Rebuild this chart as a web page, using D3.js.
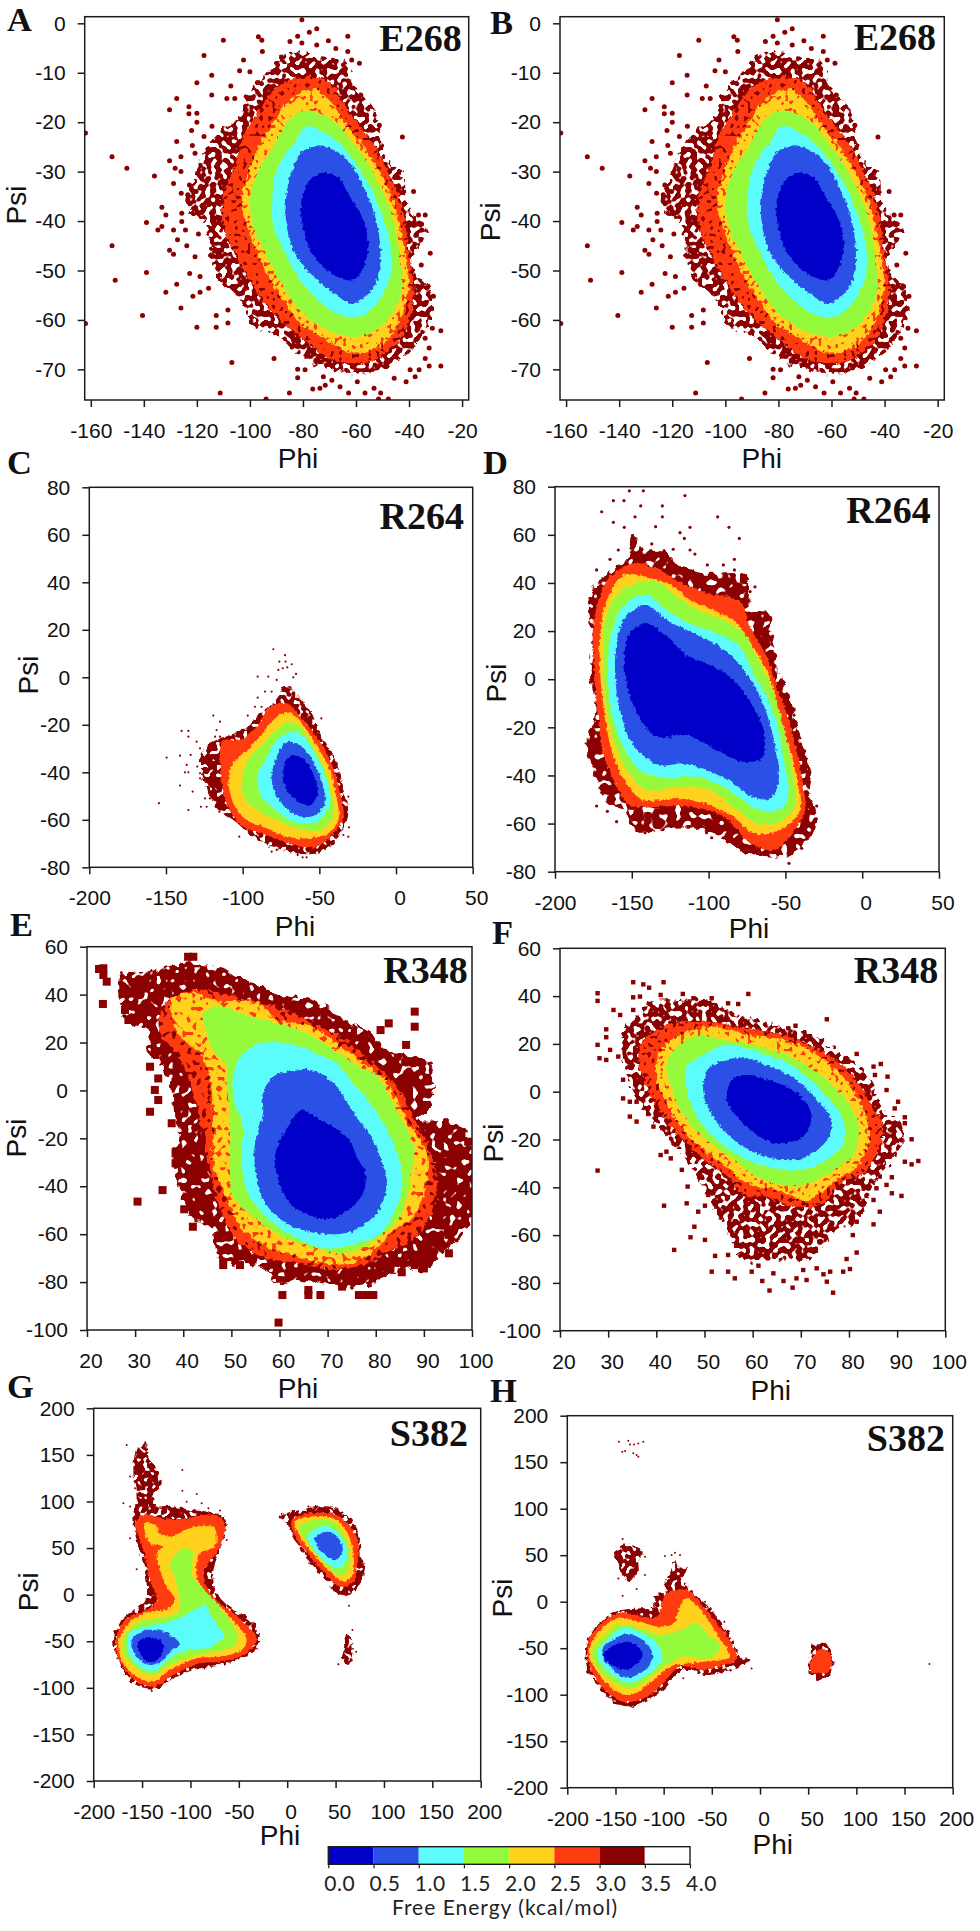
<!DOCTYPE html>
<html><head><meta charset="utf-8">
<script src="https://cdnjs.cloudflare.com/ajax/libs/d3/7.8.5/d3.min.js"></script>
<style>html,body{margin:0;padding:0;background:#fff}svg{display:block}</style>
</head><body><svg id="c" width="980" height="1931"></svg>
<script>
// free-energy levels and their colours
const levelBreaks=[0,0.5,1,1.5,2,2.5,3,3.5,4];
const levelColors=["#0000c8","#2a50e6","#5cfcfc","#96fa3c","#ffd21e","#ff3c0f","#8b0000","#ffffff"];
const barLabels=["0.0","0.5","1.0","1.5","2.0","2.5","3.0","3.5","4.0"];

// tick values
const phiTicksAB=[-160,-140,-120,-100,-80,-60,-40,-20];
const psiTicksAB=[0,-10,-20,-30,-40,-50,-60,-70];
const phiTicksCD=[-200,-150,-100,-50,0,50];
const psiTicksCD=[80,60,40,20,0,-20,-40,-60,-80];
const phiTicksEF=[20,30,40,50,60,70,80,90,100];
const psiTicksEF=[60,40,20,0,-20,-40,-60,-80,-100];
const phiTicksGH=[-200,-150,-100,-50,0,50,100,150,200];
const psiTicksGH=[200,150,100,50,0,-50,-100,-150,-200];

// E268 (A and B) - region outlines, [phi,psi]
const ab30=[[[-86.1,-6.1],[-76,-6.7],[-63.5,-8.1],[-61,-12.8],[-56,-15.5],[-51,-20.9],[-49.6,-26.3],[-42.1,-31],[-40.8,-37],[-33.3,-41.8],[-39.6,-48.5],[-32,-54],[-32,-60],[-38.3,-65.4],[-45.9,-68.8],[-56,-70.8],[-68.5,-70.1],[-81,-67.4],[-88.6,-63.4],[-97.4,-61.4],[-103.7,-56],[-113.7,-49.9],[-116.3,-41.1],[-123.8,-37],[-120,-29.7],[-116.3,-25],[-111,-21.6],[-103.7,-18.9],[-101,-14.2],[-95,-10.8]]];
const ab25=[[[-81.1,-11.1],[-71,-11.5],[-64.7,-16.2],[-58.4,-20.9],[-52.2,-25.6],[-47.1,-31],[-42.1,-38.4],[-40.2,-46.5],[-38.3,-54.6],[-40.8,-61.4],[-47.1,-66.1],[-57.2,-68.8],[-68.5,-68.1],[-81.1,-63.4],[-88.6,-60],[-96.1,-55.3],[-103.7,-48.5],[-110,-41.1],[-110,-35.1],[-104.9,-27.6],[-102.4,-22.9],[-96.1,-17.5],[-89.9,-12.8]]];
const ab20=[[[-83.6,-14.8],[-74.8,-13.5],[-68.5,-16.9],[-62.2,-21.6],[-56,-25.6],[-49.6,-31.7],[-44.6,-38.4],[-41.5,-46.5],[-40.2,-53.3],[-43.4,-60],[-49.6,-64.7],[-61,-66.8],[-71,-64.1],[-81.1,-60.7],[-87.4,-56],[-94.9,-49.2],[-100.5,-41.8],[-103,-35.7],[-99.9,-29],[-96.1,-24.3],[-89.9,-18.9]]];
const ab15=[[[-81.1,-17.9],[-73.5,-18.2],[-67.2,-20.2],[-61,-24.3],[-54.7,-29],[-49.6,-34.4],[-45.2,-41.1],[-43.4,-47.9],[-42.7,-53.9],[-47.1,-59.3],[-54.7,-62.7],[-62.2,-63.4],[-72.3,-61.7],[-81.1,-58],[-87.4,-53.3],[-93.6,-47.2],[-98.7,-41.1],[-99.9,-35.7],[-97.4,-30.3],[-91.1,-24.9],[-86.1,-20.2]]];
const ab10=[[[-78.6,-20.8],[-72.9,-21.9],[-67.2,-23.9],[-61,-27.6],[-54.7,-33],[-50.3,-38.4],[-47.1,-44.5],[-47.1,-51.2],[-52.2,-56.6],[-58.4,-59.3],[-66,-59],[-73.5,-56.3],[-81.1,-51.9],[-86.1,-47.2],[-91.1,-41.1],[-91.7,-37.1],[-89.9,-29.7],[-83.6,-24.3]]];
const ab05=[[[-74.8,-24.9],[-68.5,-25.6],[-62.2,-28.3],[-57.2,-33],[-52.8,-39.1],[-50.9,-45.2],[-51.5,-51.2],[-55.9,-55],[-61,-56.6],[-68.5,-54.6],[-76,-51.2],[-82.3,-47.2],[-86.1,-41.1],[-86.3,-35.1],[-83.6,-29],[-80.4,-26]]];
const ab00=[[[-73.5,-30.3],[-67.2,-31],[-62.2,-35.1],[-57.8,-39.1],[-55.3,-44.5],[-56.6,-48.5],[-61,-51.9],[-67.2,-51.2],[-74.8,-47.9],[-79.8,-41.8],[-80.4,-35.1],[-77.3,-31.7]]];
const abSpecks=[[-152,-27],[-146.4,-29.3],[-136,-30.9],[-152,-45],[-150.8,-52],[-139,-40.3],[-139,-50.4],[-140.5,-59.1],[-162,-22.2],[-162,-60.7],[-110,-3.4],[-117.3,-6.5],[-120,-12],[-114.4,-10.5],[-114.4,-14.5],[-127.6,-15.2],[-130.3,-17.5],[-123,-16.9],[-120,-18.2],[-123,-18.3],[-120,-20],[-122,-21.7],[-117.3,-22.9],[-114.3,-20.8],[-127.6,-23.9],[-121.7,-24.7],[-120.7,-26.3],[-126,-27],[-130.3,-27.8],[-128.2,-29.3],[-126,-30],[-128.8,-32.4],[-122.8,-32.7],[-125.9,-34.4],[-123.4,-34.7],[-120.3,-34],[-133.2,-37.2],[-131.7,-38.8],[-125.7,-38.4],[-125.7,-40.1],[-134.7,-41.8],[-133.2,-41.1],[-128.8,-41.8],[-124.3,-41.8],[-127.3,-43.8],[-119.4,-42.6],[-123.8,-45],[-130.3,-45.9],[-128.8,-46.7],[-120.7,-47.2],[-122.7,-50.6],[-118.8,-51.2],[-127.6,-52.8],[-131.7,-54.4],[-121.5,-55.2],[-118.8,-54.4],[-115.6,-53.6],[-126,-57.6],[-120,-61.5],[-112.7,-59.1],[-112.7,-61.5],[-108.3,-58],[-108.3,-60.6],[-106.8,-68.6],[-90.9,-67.8],[-111.2,-74.8],[-85.1,-74.8],[-93.9,-76],[-80.4,0.7],[-77.6,-1.8],[-74.8,-1.1],[-63.1,-2.6],[-63.1,-5.7],[-70.4,-3.5],[-96.8,-2.7],[-95.5,-3.4],[-95.3,-5.7],[-82,-2.6],[-84.9,-3.7],[-80.4,-4],[-74.8,-4.4],[-102.4,-7.4],[-103.9,-9.6],[-100,-9.8],[-61.6,-7.4],[-58.7,-8.1],[-67.6,-5.1],[-107.2,-12.7],[-108.7,-15.2],[-105.7,-15.2],[-58.2,-14.5],[-42.5,-23],[-38.3,-34],[-51.2,-20.6],[-33.9,-38.8],[-35.2,-41.8],[-36.4,-38.8],[-32,-46.5],[-35.4,-48.9],[-35.6,-43.8],[-30.8,-55.2],[-28,-62.2],[-31.2,-61.7],[-33.9,-63.7],[-32.4,-65.7],[-33.9,-67.8],[-32.4,-69.3],[-28,-69.3],[-36.2,-70.1],[-41.1,-72.5],[-37.7,-71.5],[-39.6,-70.1],[-45.6,-71.8],[-66,-73.5],[-62.8,-74.8],[-56.6,-74.8],[-59.5,-72.5],[-53.2,-73.8],[-50.7,-74.8],[-51.5,-76],[-47.8,-76],[-76.3,-74],[-73.6,-73.8],[-71.6,-73.2],[-69.1,-72.2],[-72.3,-71.5],[-82,-71.7],[-82,-70],[-79.2,-70.1]];

// R264 (C)
const c30=[[[-72.4,-3.2],[-65.9,-6.7],[-56.1,-13.8],[-49.6,-23.6],[-38.7,-36.2],[-34.3,-47.4],[-31.1,-57.3],[-34.3,-63.6],[-40.9,-69.9],[-51.7,-74.1],[-64.8,-74.1],[-80,-71.3],[-93,-67.1],[-106.1,-60.1],[-115.9,-55.9],[-123.5,-46],[-127.8,-34.8],[-121.3,-27.8],[-110.4,-25],[-97.4,-20.8],[-88.7,-15.2],[-77.8,-9.5]]];
const c25=[[[-71.3,-10.9],[-61.5,-17.3],[-51.7,-25],[-43,-34.8],[-37.6,-46],[-34.3,-58.7],[-40.9,-65.7],[-51.7,-71.3],[-67,-70.6],[-84.3,-66.4],[-99.6,-62.9],[-108.3,-55.9],[-113.7,-44.6],[-114.8,-32],[-112.6,-26.4],[-101.7,-26.4],[-90.9,-20.8],[-82.2,-12.4]]];
const c20=[[[-70.2,-14.5],[-61.5,-19.4],[-52.8,-27.8],[-44.1,-37.6],[-39.8,-47.4],[-37.6,-60.1],[-44.1,-65.7],[-58.3,-67.8],[-71.3,-67.1],[-84.3,-63.6],[-97.4,-60.1],[-105,-54.5],[-109.3,-43.2],[-106.1,-36.2],[-97.4,-30.6],[-88.7,-25],[-80,-18]]];
const c15=[[[-69.1,-18.7],[-62.6,-20.8],[-53.9,-29.2],[-46.3,-39],[-42,-48.8],[-40.9,-58.7],[-49.6,-64.3],[-64.8,-63.6],[-77.8,-60.1],[-90.9,-55.9],[-98.5,-50.9],[-100.7,-44.6],[-96.3,-34.8],[-86.5,-27.8],[-77.8,-22.2]]];
const c10=[[[-68,-22.9],[-60.4,-25],[-51.7,-33.4],[-45.2,-43.2],[-43,-53],[-49.6,-60.1],[-62.6,-61.5],[-75.7,-57.3],[-86.5,-50.9],[-90.9,-43.2],[-84.3,-33.4],[-77.8,-26.4]]];
const c05=[[[-69.1,-27.1],[-61.5,-29.2],[-52.8,-36.9],[-47.4,-46],[-46.3,-53],[-52.8,-58],[-61.5,-58.7],[-71.3,-55.2],[-78.9,-48.8],[-81.1,-41.8],[-77.8,-33.4],[-73.5,-28.5]]];
const c00=[[[-67,-32.7],[-59.4,-34.8],[-52.8,-42.5],[-51.3,-49.5],[-56.1,-53.8],[-63.7,-52.4],[-71.3,-47.4],[-73.5,-39.7],[-71.3,-34.8]]];
const cSpecks=[[-80,11.8],[-72.4,9.3],[-76.1,6.6],[-72,6.6],[-68,5.5],[-76.7,3.1],[-73.9,3.8],[-70.9,4.2],[-65.2,1.4],[-67,0],[-90.2,0.3],[-83.3,0.3],[-77.8,-1.1],[-85.4,-6],[-90.2,-8.6],[-81.1,-6],[-92,-12.4],[-87.7,-12.4],[-96.7,-16.1],[-119.1,-16.1],[-114.8,-18.7],[-139.8,-22.6],[-135.4,-22.6],[-135.4,-25],[-117,-22.2],[-118,-25],[-114.8,-25],[-130,-27.1],[-127.8,-29.9],[-149.6,-33.8],[-140.9,-33],[-133.9,-32.7],[-136.5,-36.9],[-137.6,-40],[-135.4,-40],[-129.6,-37.6],[-127.8,-40.4],[-127.8,-42.5],[-140.9,-45.6],[-132.6,-48.1],[-122.4,-46.7],[-124.6,-51],[-121.3,-51],[-154.6,-53],[-135.4,-55.9],[-127.2,-54.5],[-123.5,-54.5],[-115.2,-56.6],[-102.2,-67.1],[-81.1,-73.4],[-77.8,-72.7],[-64.1,-74.8],[-60.9,-75.8],[-58.3,-75.8],[-48.7,-17.3],[-31.1,-50.2],[-30.7,-63.2],[-34.3,-66.4],[-31.1,-67.1]];

// R264 (D)
const d30=[[[-147.9,59.9],[-142.5,53.7],[-129.5,53.7],[-118.6,46.8],[-103.4,44],[-75.2,42.6],[-73,28.8],[-62.2,28.1],[-57.9,14.9],[-55.7,6.6],[-51.3,-1.7],[-45.9,-10],[-42.7,-19.7],[-37.2,-30.8],[-32.9,-39.1],[-34,-48.8],[-28.6,-57.1],[-37.2,-68.2],[-51.3,-73.7],[-75.2,-72.4],[-90.4,-66.1],[-107.8,-62],[-127.3,-62],[-146.8,-63.4],[-153.3,-55.7],[-166.4,-50.2],[-175,-39.1],[-179.4,-27.3],[-172.9,-11.4],[-177.2,1.1],[-176.1,17.7],[-177.2,34.3],[-166.4,44],[-153.3,49.5]]];
const d25=[[[-149,48.1],[-136,46.8],[-120.8,41.2],[-101.3,35.7],[-79.6,32.2],[-73,21.8],[-62.2,9.4],[-55.7,-3.1],[-49.2,-14.2],[-42.7,-29.4],[-38.3,-44.7],[-37.2,-54.3],[-47,-65.4],[-57.9,-71],[-73,-68.2],[-90.4,-57.1],[-112.1,-53],[-133.8,-53],[-151.2,-52.3],[-159.9,-44.7],[-168.5,-30.8],[-172.9,-10],[-175,11.1],[-175,23.2],[-168.5,38.4],[-162,44]]];
const d20=[[[-155.5,43.3],[-140.3,42.6],[-125.1,39.1],[-112.1,32.9],[-94.7,28.1],[-81.7,23.2],[-70.9,13.5],[-62.2,3.8],[-55.7,-8.6],[-50.3,-22.5],[-43.7,-37.7],[-40.5,-54.3],[-53.5,-62.7],[-70.9,-64],[-83.9,-57.1],[-103.4,-51.6],[-120.8,-49.5],[-142.5,-50.2],[-153.3,-43.3],[-162,-32.2],[-167.4,-15.6],[-170.7,3.8],[-169.6,24.6],[-164.2,35.7]]];
const d15=[[[-151.2,39.1],[-133.8,40.5],[-120.8,34.3],[-107.8,28.8],[-90.4,24.6],[-77.4,19.1],[-68.7,9.4],[-60,-1.7],[-53.5,-14.2],[-49.2,-25.3],[-44.8,-40.5],[-43.7,-53],[-55.7,-59.9],[-68.7,-59.9],[-81.7,-54.3],[-99.1,-46],[-118.6,-44.7],[-140.3,-46],[-153.3,-37.7],[-162,-25.3],[-166.4,-12.8],[-168.5,3.8],[-167.4,24.6],[-162,32.9]]];
const d10=[[[-149,33.6],[-140.3,35],[-127.3,28.8],[-112.1,23.2],[-94.7,19.1],[-79.6,13.5],[-70.9,2.4],[-62.2,-7.3],[-55.7,-18.4],[-51.3,-32.2],[-48.1,-46],[-51.3,-53],[-64.4,-55],[-75.2,-51.6],[-90.4,-44.7],[-107.8,-40.5],[-127.3,-41.2],[-144.7,-37.7],[-155.5,-28],[-162,-17],[-165.3,-1.7],[-164.2,16.3],[-158.8,27.4]]];
const d05=[[[-141.4,30.8],[-127.3,24.6],[-112.1,19.8],[-92.6,13.5],[-79.6,5.9],[-68.7,-4.5],[-62.2,-14.2],[-56.8,-28],[-54.6,-43.3],[-60,-49.5],[-72,-48.8],[-83.9,-43.3],[-99.1,-38.4],[-116.4,-35],[-131.6,-35.7],[-149,-27.3],[-157.7,-12.8],[-160.9,8],[-156.6,23.2],[-150.1,28.1]]];
const d00=[[[-140.3,23.2],[-127.3,17.7],[-114.3,10.1],[-101.3,6.6],[-86.1,1.1],[-75.2,-7.3],[-66.5,-17],[-63.3,-26.6],[-65.5,-32.9],[-77.4,-34.3],[-94.7,-29.4],[-114.3,-23.2],[-133.8,-23.9],[-142.5,-18.3],[-151.2,-7.3],[-154.9,9.4],[-151.2,19.1]]];
const dSpecks=[[-151.6,78.3],[-142.5,78.3],[-115.4,76.3],[-162,74.2],[-155.1,74.2],[-144.2,72],[-130.1,72],[-169.6,69.6],[-147.9,67.5],[-130.1,67.5],[-94.1,67.5],[-162,65.2],[-134.5,63.4],[-154.9,63.1],[-112.1,63.1],[-86.7,63.1],[-118.6,60.9],[-115.8,58.5],[-80,58.5],[-137,56.2],[-123,54],[-112.1,53.7],[-158.8,53.7],[-108.9,52],[-164.2,49.8],[-83.2,49.8],[-83.2,45.4],[-100.8,47.5],[-90.4,47.5],[-172.9,45.4],[-177.2,33.6],[-69.8,38.4],[-73,36.4],[-172.9,-52.7],[-165.9,-54.9],[-169.6,-47.1],[-159.9,-59.2],[-141.4,-63.8],[-101.3,-63.8],[-98,-65.9],[-90.4,-65.9],[-47.7,-76.5],[-47.7,-72.6],[-39.4,-70.3],[-29.6,-52.7],[-44.4,-14.9]];

// R348 (E)
const e30=[[[26.9,47.5],[32.4,49.6],[40.7,53],[48.3,50.3],[53.2,46.1],[59.4,40.5],[68.4,36.3],[73.3,29.4],[78.1,25.2],[82.3,16.9],[91.3,11.3],[91.3,-6.8],[89.2,-12.3],[96.8,-13.7],[100,-23.5],[100,-54.1],[94.7,-66.6],[90.6,-75],[85,-75],[79.5,-80.5],[73.3,-81.9],[65.6,-79.1],[59.4,-80.5],[56.6,-73.6],[50.4,-72.2],[47.6,-70.8],[45.6,-56.9],[41.4,-52.7],[39.3,-40.2],[37.9,-26.3],[39.3,-17.9],[37.9,-6.8],[37.2,4.3],[34.5,12.7],[32.4,15.5],[33.1,23.8],[28.2,29.4],[27.2,35]]];
const e25=[[[37.2,37.7],[42.8,41.9],[48.3,40.5],[56.6,36.3],[62.9,32.2],[68.4,26.6],[73.9,21],[79.5,11.3],[84.3,1.6],[88.5,-13.7],[92,-29],[92.6,-43],[89.2,-59.7],[83.6,-66.6],[78.1,-72.2],[71.2,-75],[64.3,-72.2],[56.6,-69.4],[50.4,-61],[47.6,-48.5],[45.6,-34.6],[44.2,-20.7],[42.8,-6.8],[40.7,7.1],[38.6,15.5],[35.2,23.8],[35.2,32.2]]];
const e20=[[[37.6,37.7],[42.8,40.5],[46.2,37.7],[55.9,36.3],[59.4,29.4],[67,26.6],[72.6,18.3],[79.5,8.5],[83,1.6],[87.1,-15],[90.6,-26.3],[89.9,-43],[87.8,-52.7],[83,-59.7],[78.1,-69.4],[71.2,-72.9],[64.3,-69.4],[57.3,-65.2],[51.8,-56.9],[49,-44.3],[46.2,-30.4],[46.2,-12.3],[45.6,4.3],[43.5,15.5],[40.7,19.7],[38.6,25.2]]];
const e15=[[[44.2,32.2],[47.6,35],[51.8,32.2],[57.3,29.4],[64.3,25.2],[70.5,18.3],[75.3,11.3],[80.2,5.7],[84.3,-8.2],[87.8,-23.5],[87.1,-38.8],[85,-52.7],[78.8,-63.8],[73.3,-68],[66.3,-65.2],[59.4,-59.7],[54.6,-52.7],[50.4,-44.3],[49.7,-29],[49.7,-12.3],[49,3],[49,9.9],[46.2,16.9],[44.9,23.8]]];
const e10=[[[55.2,19],[61.5,19.7],[67.7,15.5],[71.9,11.3],[75.3,3],[79.5,-6.8],[83,-19.3],[85.4,-33.2],[84.7,-47.1],[80.9,-59.7],[76,-63.8],[69.8,-65.9],[62.9,-61],[57.3,-52.7],[53.5,-43],[52.1,-27.7],[52.5,-15.1],[50.4,-2.6],[51.1,11.3]]];
const e05=[[[58.7,5.7],[61.5,7.8],[67.7,7.8],[71.9,1.6],[74.6,-6.8],[77.4,-15.1],[79.5,-20.7],[80.9,-27.7],[82.3,-38.8],[80.2,-51.3],[74.6,-59],[68.4,-59.7],[61.5,-55.5],[56.6,-45.7],[54.9,-31.8],[54.9,-22.1],[56.6,-9.6],[56.6,-1.2]]];
const e00=[[[64.6,-8.2],[68.4,-12.3],[73.9,-19.3],[76,-27.7],[77.8,-34.6],[77.1,-44.3],[71.2,-53.4],[67,-52.7],[62.2,-47.1],[59.4,-34.6],[59.1,-26.3],[61.8,-15.1]]];
const eSpecks=[[22.5,50.7],[23.4,51],[23.4,48.2],[24.1,45.4],[23.3,36.1],[27.9,33.6],[28.6,29.4],[41,55.8],[42.1,55.8],[33.1,9.9],[34.8,5],[33.1,-8.9],[34.1,0.2],[34.8,-4],[37.6,-13.7],[38.4,-26.3],[38.4,-30.4],[35.7,-41.6],[30.5,-46.4],[40.2,-49.6],[42,-56.9],[88.1,32.9],[88.1,26.6],[82.7,28],[81,25.2],[86.3,19],[59.8,-96.9],[60.6,-85.4],[66,-83.3],[66,-85.4],[68.5,-85.4],[76.5,-85.4],[78.1,-85.4],[79.5,-85.4],[73,-81.9],[85.4,-75.9],[90,-74.3],[88.1,-72.9],[90,-69.4],[95.2,-68],[95.1,-60.3],[48.3,-72.9],[47.3,-61.7],[51.8,-72.9],[99.2,-21.4],[97.8,-18.6]];

// R348 (F)
const f30=[[[38.7,37],[44.9,38.4],[51.1,38.4],[56,32.8],[60.8,30],[65.7,27.2],[71.9,24.4],[77.4,17.5],[81.6,11.9],[85.1,2.1],[87.8,-9],[91.3,-14.6],[89.9,-25.8],[86.4,-34.1],[84.4,-42.5],[82.3,-53.7],[77.4,-57.9],[74.7,-64.8],[71.2,-70.4],[64.3,-70.4],[58.1,-70.4],[55.3,-60.6],[51.1,-45.3],[46.3,-28.6],[42.1,-18.8],[38,-9],[33.8,7.7],[33.1,25.8],[35.9,31.4]]];
const f25=[[[38,23],[44.2,28.6],[51.1,29.3],[58.1,26.5],[65,24.4],[71.2,20.3],[76.1,14.7],[80.9,6.3],[84.4,-4.9],[87.1,-14.6],[85.7,-25.8],[83,-34.1],[78.1,-38.3],[74.7,-46.7],[67.8,-48.1],[62.9,-43.9],[58.8,-43.9],[54.6,-35.5],[49.1,-27.2],[44.9,-18.8],[40.8,-7.6],[38,2.1],[36.3,14.7]]];
const f20=[[[41.5,18.9],[46.3,25.1],[52.5,27.2],[59.4,23.7],[66.4,21.6],[71.9,17.5],[77.4,9.1],[80.9,0.7],[83.7,-11.8],[84,-21.6],[81.6,-31.4],[77.4,-36.9],[71.2,-45.3],[65,-41.1],[59.4,-39],[54.6,-31.4],[49.8,-24.4],[45.6,-16],[42.1,-4.9],[40.1,6.3],[40.1,13.3]]];
const f15=[[[43.5,16.8],[48.4,23.7],[53.9,21.6],[60.1,19.6],[66.4,16.1],[71.2,11.2],[75.4,4.9],[79.5,-3.5],[81.9,-14.6],[81.2,-25.8],[78.1,-31.4],[73.3,-36.9],[67.8,-39.7],[60.8,-35.5],[55.3,-27.2],[50.4,-20.2],[46.3,-11.8],[43.5,-0.7],[42.1,10.5]]];
const f10=[[[46.3,10.5],[50.4,16.1],[54.6,19.6],[60.8,16.8],[66.4,12.6],[71.2,6.3],[75.4,-2.1],[78.8,-11.8],[78.8,-21.6],[75.4,-28.6],[69.8,-32.7],[62.9,-31.4],[57.4,-27.2],[52.5,-20.2],[48.4,-10.4],[46.3,0.7]]];
const f05=[[[50.4,8.4],[53.2,12.6],[58.1,14],[63.6,10.5],[69.1,4.9],[74,-4.9],[76.4,-11.8],[75.4,-20.2],[71.2,-27.2],[66.4,-28.6],[60.8,-25.8],[55.3,-18.8],[51.8,-10.4],[49.8,-0.7]]];
const f00=[[[56,5.6],[59.4,7],[64.3,4.2],[68.4,0.7],[71.2,-4.9],[72.2,-10.4],[70.5,-18.8],[65.7,-21.6],[61.5,-18.8],[57.4,-11.8],[54.6,-3.5]]];
const fSpecks=[[27.8,41.2],[27.8,38],[27.8,19.6],[28.2,14],[29.6,13.3],[29.6,26.1],[29.6,22.8],[27.8,-33],[35.2,45.8],[37.3,44.9],[38.5,43.5],[41.5,45.8],[36.6,39.8],[40.9,40.5],[45.5,40.9],[59.1,40.9],[47.7,39.1],[51.5,39.1],[54.9,37],[57,36.7],[35.2,39.5],[31.1,34.2],[32.5,32.1],[35.2,34.2],[75.4,30.3],[68.9,27.6],[67.4,26.5],[81.6,15.8],[86.6,11.6],[85.1,10.5],[85.4,7],[88,6.3],[87.8,0.7],[90.2,-4.2],[89.5,-7],[91.6,-10.7],[91.6,-13.2],[90.9,-20.2],[93,-19.9],[91.6,-29.3],[93,-30.4],[94.4,-29],[88.9,-35.8],[87.8,-39],[88.9,-42.5],[90.9,-43.6],[85.7,-40.4],[86.4,-35.5],[85.1,-45.3],[86.4,-50.2],[85.1,-55.5],[81.6,-54.4],[80.8,-60],[81.6,-67.3],[79.5,-70],[80.2,-74.2],[78.8,-75.3],[76.1,-75.3],[74.7,-76.4],[73.3,-73.9],[75.4,-79.5],[76.7,-84.1],[71.2,-78.8],[70.5,-74.6],[69.1,-78.1],[68.3,-82],[66.4,-79.2],[64.3,-76],[63.5,-83.2],[62,-79.2],[61.2,-72.8],[59.8,-75.3],[56.3,-78.1],[54.9,-75.3],[51.5,-75.3],[43.7,-66.2],[47.1,-60.9],[41.6,-47.7],[50.1,-62],[52.2,-68.7],[54.9,-68.3],[47.9,-56.5],[48.7,-50.2],[50.1,-47.7],[46.3,-46.7],[50.8,-43.2],[46.5,-39.7],[45.3,-32.7],[43,-27.9],[40.9,-26.5],[42.1,-25.1],[39.4,-14.6],[35.9,-12.5],[34.5,-10.4],[33.1,5],[33.1,-2.8],[34.5,-4.2],[35.9,-4.2],[37.3,-3.5],[38,-0.7],[32.1,14.7],[30.4,17.5]];

// S382 (G)
const g30=[[[-145.2,162.4],[-143.5,148.1],[-134.9,133.8],[-129.7,119.5],[-138.3,105.2],[-134.9,94.5],[-117.7,94.5],[-100.4,90.9],[-83.2,89.1],[-66,83.7],[-62.5,73],[-69.4,51.5],[-76.3,22.9],[-72.9,1.4],[-55.6,-16.5],[-35,-30.8],[-29.8,-55.8],[-45.3,-66.5],[-66,-75.5],[-90.1,-79.1],[-114.2,-88],[-134.9,-100.5],[-152.1,-98.7],[-165.9,-88],[-176.2,-66.5],[-179.7,-45.1],[-169.3,-25.4],[-148.7,-9.3],[-145.2,8.6],[-148.7,33.6],[-155.6,58.7],[-159,83.7],[-155.6,105.2],[-159,130.2],[-155.6,155.3]],
 [[-9.1,83.7],[13.3,90.9],[42.5,94.5],[61.5,85.5],[73.6,65.8],[77,37.2],[80.5,33.6],[73.6,8.6],[63.2,-0.4],[52.9,-0.4],[40.8,15.7],[23.6,33.6],[6.4,62.3],[-0.5,76.6]],
 [[59.8,-43.3],[63.2,-43.3],[67.7,-55.8],[66.7,-66.5],[63.2,-75.5],[56.3,-68.3],[59.8,-55.8]]];
const g25=[[[-157.3,76.6],[-148.7,85.5],[-117.7,80.1],[-76.3,85.5],[-64.3,76.6],[-69.4,51.5],[-86.6,22.9],[-76.3,-2.1],[-55.6,-20],[-40.1,-34.3],[-31.5,-48.7],[-45.3,-64.8],[-69.4,-71.9],[-90.1,-73.7],[-117.7,-86.2],[-136.6,-98.7],[-152.1,-95.2],[-167.6,-80.9],[-176.2,-63],[-176.2,-45.1],[-165.9,-25.4],[-145.2,-16.5],[-134.9,-5.7],[-141.8,15.7],[-146.9,40.8],[-152.1,58.7]],
 [[4.7,80.1],[23.6,87.3],[51.2,85.5],[64.9,73],[73.6,55.1],[71.8,30],[68.4,13.9],[54.6,8.6],[42.5,19.3],[23.6,40.8],[8.1,62.3]]];
const g20=[[[-146.9,76.6],[-136.6,74.8],[-131.4,65.8],[-121.1,62.3],[-100.4,71.2],[-76.3,73],[-72.9,58.7],[-76.3,49.7],[-90.1,44.4],[-93.5,19.3],[-83.2,1.4],[-62.5,-20],[-50.5,-34.3],[-41.9,-48.7],[-47,-59.4],[-69.4,-66.5],[-93.5,-68.3],[-121.1,-80.9],[-138.3,-93.4],[-155.6,-88],[-169.3,-73.7],[-174.5,-55.8],[-172.8,-45.1],[-162.4,-29],[-141.8,-18.2],[-126.3,-16.5],[-115.9,-5.7],[-124.5,8.6],[-131.4,26.5],[-134.9,44.4],[-128,51.5],[-141.8,55.1],[-146.9,65.8]],
 [[8.1,78.4],[23.6,83.7],[47.7,81.9],[61.5,67.6],[68.4,44.4],[66.7,19.3],[58,13.9],[44.3,24.7],[23.6,47.9],[11.5,65.8]]];
const g15=[[[-110.8,47.9],[-98.7,47.9],[-98.7,22.9],[-88.4,8.6],[-76.3,-5.7],[-59.1,-27.2],[-52.2,-41.5],[-50.5,-50.4],[-66,-59.4],[-93.5,-64.8],[-121.1,-75.5],[-138.3,-86.2],[-153.8,-80.9],[-165.9,-68.3],[-170,-55.8],[-167.6,-43.3],[-155.6,-30.8],[-134.9,-25.4],[-114.2,-20],[-110.8,-5.7],[-117.7,22.9],[-121.1,30]],
 [[11.5,73],[27.1,80.1],[47.7,78.4],[58,65.8],[64.9,44.4],[63.2,26.5],[56.3,19.3],[42.5,30],[23.6,51.5],[13.3,65.8]]];
const g10=[[[-86.6,-11.1],[-76.3,-27.2],[-66,-41.5],[-64.3,-45.1],[-83.2,-57.6],[-103.9,-59.4],[-121.1,-68.3],[-138.3,-82.6],[-152.1,-77.3],[-162.4,-66.5],[-165.9,-54],[-162.4,-41.5],[-148.7,-34.3],[-128,-30.8],[-109,-23.6],[-97,-16.5]],
 [[21.9,64],[39.1,73.7],[52.9,65.8],[61.5,48.1],[59.8,33.6],[51.2,28.3],[37.4,37.2],[23.6,55.1]]];
const g05=[[[-145.2,-37.9],[-128,-39.7],[-115.9,-46.9],[-110.8,-54],[-121.1,-61.2],[-128,-70.1],[-141.8,-75.5],[-152.1,-70.1],[-159.7,-59.4],[-160.7,-48.7],[-153.8,-41.5]],
 [[28.8,60.5],[42.5,67.6],[52.9,60.5],[57.4,49.7],[54.6,41],[47.7,37.9],[35.7,46.2]]];
const g00=[[[-141.8,-45.8],[-129.7,-50.4],[-128,-59.4],[-134.9,-70.1],[-145.2,-71.9],[-152.1,-63],[-153.8,-52.2],[-148.7,-46.9]]];
const gSpecks=[[-165.9,160.6],[-108.4,133.8],[-162.4,126.7],[-157.3,114.1],[-108.4,111.6],[-93.5,108],[-103.9,99.8],[-88.4,98],[-81.5,92.7],[-69.4,90.2],[-169.3,98],[-162.4,94.5],[-162.4,60.5],[-62.5,58.7],[-155.6,27.2],[63.9,-11.8],[67.4,-37.9],[71.2,-61.2],[52.9,-74.8],[-140,-103.4],[21.9,94.5]];

// S382 (H)
const h30=[[[-176.5,-35.8],[-148.8,-10.8],[-128,-7.2],[-110.7,-5.4],[-109,7.2],[-98.6,10.8],[-96.9,23.3],[-83,26.9],[-72.7,12.5],[-51.9,-7.2],[-31.1,-37.6],[-20.8,-59.1],[-8.7,-62.7],[-31.1,-73.5],[-55.4,-78.9],[-79.6,-73.5],[-100.3,-95],[-117.6,-105.7],[-131.5,-112.9],[-152.2,-107.5],[-169.6,-87.8],[-179.9,-69.9]],
 [[-150.5,55.6],[-143.6,60.9],[-131.5,60.9],[-121.8,53.8],[-126.3,44.8],[-126.3,30.5],[-135,23.3],[-143.6,30.5],[-147,41.2]],
 [[-88.2,44.8],[-84.8,37.6],[-76.1,35.8],[-81.3,26.9],[-95.2,26.9],[-91.7,35.8]],
 [[53.6,-44.8],[60.6,-48.4],[65.7,-43],[74.4,-53.8],[76.1,-66.3],[72.7,-78.9],[57.1,-84.2],[50.2,-69.9],[52.6,-55.6]]];
const h25=[[[-176.5,-37.6],[-148.8,-12.5],[-107.3,-16.1],[-96.9,9],[-76.1,12.5],[-58.8,-5.4],[-41.5,-26.9],[-27.7,-48.4],[-24.2,-62.7],[-38.1,-68.1],[-58.8,-73.5],[-83,-69.9],[-103.8,-91.4],[-121.1,-103.9],[-141.9,-107.5],[-162.6,-93.2],[-176.5,-69.9],[-179.2,-52]],
 [[55.4,-59.1],[60.6,-51.3],[72.7,-55.6],[74.4,-68.1],[69.2,-77.1],[53.6,-75.3],[51.9,-66.3]]];
const h20=[[[-173,-41.2],[-148.8,-17.9],[-124.6,-21.5],[-103.8,-26.9],[-90,-23.3],[-83,-5.4],[-76.1,3.6],[-58.8,-12.5],[-45,-34.1],[-31.1,-59.1],[-45,-62.7],[-72.7,-66.3],[-93.4,-69.9],[-110.7,-84.2],[-134.9,-100.4],[-155.7,-91.4],[-169.6,-73.5],[-177.2,-59.1]]];
const h15=[[[-169.6,-44.8],[-147.1,-25.1],[-124.6,-28.7],[-103.8,-35.8],[-83,-30.5],[-65.7,-23.3],[-55.4,-34.1],[-41.5,-48.4],[-51.9,-60.9],[-79.6,-59.1],[-93.4,-66.3],[-114.2,-80.6],[-134.9,-93.2],[-155.7,-84.2],[-169.6,-69.9],[-174.7,-55.6]]];
const h10=[[[-162.6,-44.8],[-143.6,-28.7],[-124.6,-32.3],[-109,-43],[-101,-59.1],[-110.7,-73.5],[-134.9,-87.1],[-155.7,-77.1],[-167.8,-60.9],[-168.9,-52]]];
const h05=[[[-155.7,-43],[-138.4,-34.8],[-124.6,-39.4],[-112.5,-53.8],[-113.1,-66.3],[-128,-78.9],[-141.9,-81.4],[-155.7,-69.9],[-163.3,-59.1],[-162.6,-48.4]]];
const h00=[[[-145.3,-44.1],[-131.5,-44.8],[-121.8,-57.3],[-131.5,-69.9],[-143.6,-72.8],[-155.7,-66.3],[-163.3,-57.3]]];
const hSpecks=[[-146.4,172],[-136.7,173],[-134.9,169],[-130.7,169],[-126.3,170],[-121.1,172],[-142.9,161.3],[-140,162],[-128,157.7],[-126.3,155.9],[-131.5,159.5],[-98.6,49.1],[-88.2,52.7],[-83,50.2],[-91.7,50.2],[-142.6,67.4],[-142.6,6.5],[-128,13.6],[-119.4,48.4],[-119.4,28.7],[-147,25],[175.8,-67],[-8.7,-71.7],[-37,-21.5],[-57,0],[-47.8,-77.1],[-79.6,-82.4]];

// layout table
const panels=[
 {tag:"A",title:"E268",fr:[84.7,468.7,16.7,400],phi:[-162.3,-17.5],psi:[1.34,-76.2],pt:phiTicksAB,st:psiTicksAB,lev:[ab30,ab25,ab20,ab15,ab10,ab05,ab00],sp:abSpecks,r:2.5,sq:false,style:"spk",tagPos:[7,31],titlePos:[461.7,50.7],phiPos:[298,468],psiPos:[25.7,205]},
 {tag:"B",title:"E268",fr:[560,944.3,16.7,400],phi:[-162.3,-17.5],psi:[1.34,-76.2],pt:phiTicksAB,st:psiTicksAB,lev:[ab30,ab25,ab20,ab15,ab10,ab05,ab00],sp:abSpecks,r:2.5,sq:false,style:"spk",tagPos:[490,34],titlePos:[936,50],phiPos:[761.7,468],psiPos:[500,221.7]},
 {tag:"C",title:"R264",fr:[89.3,472.7,487.3,867.3],phi:[-200,50],psi:[80,-80],pt:phiTicksCD,st:psiTicksCD,lev:[c30,c25,c20,c15,c10,c05,c00],sp:cSpecks,r:1.1,sq:false,style:"fine",tagPos:[7,474],titlePos:[464,529],phiPos:[295,935.7],psiPos:[38.3,675]},
 {tag:"D",title:"R264",fr:[555,939,486.7,871.7],phi:[-200,50],psi:[80,-80],pt:phiTicksCD,st:psiTicksCD,lev:[d30,d25,d20,d15,d10,d05,d00],sp:dSpecks,r:1.6,sq:false,style:"mid",tagPos:[483,474],titlePos:[930.7,522.7],phiPos:[749,938],psiPos:[505.7,683]},
 {tag:"E",title:"R348",fr:[87,472,946.7,1330],phi:[20,100],psi:[60,-100],pt:phiTicksEF,st:psiTicksEF,lev:[e30,e25,e20,e15,e10,e05,e00],sp:eSpecks,r:4,sq:true,style:"blk",tagPos:[10,936],titlePos:[467.7,982.7],phiPos:[298,1398],psiPos:[25.7,1138]},
 {tag:"F",title:"R348",fr:[560,945.3,948.3,1330.7],phi:[20,100],psi:[60,-100],pt:phiTicksEF,st:psiTicksEF,lev:[f30,f25,f20,f15,f10,f05,f00],sp:fSpecks,r:2.2,sq:true,style:"spk",tagPos:[492,944],titlePos:[938.3,982.7],phiPos:[770.7,1400],psiPos:[502.7,1143]},
 {tag:"G",title:"S382",fr:[93.7,480.7,1408.3,1781],phi:[-200,200],psi:[200,-200],pt:phiTicksGH,st:psiTicksGH,lev:[g30,g25,g20,g15,g10,g05,g00],sp:gSpecks,r:1,sq:false,style:"fine",tagPos:[7,1398],titlePos:[468,1445.7],phiPos:[280,1845],psiPos:[38.3,1591.7]},
 {tag:"H",title:"S382",fr:[567.3,952.7,1415.7,1787.7],phi:[-200,200],psi:[200,-200],pt:phiTicksGH,st:psiTicksGH,lev:[h30,h25,h20,h15,h10,h05,h00],sp:hSpecks,r:1,sq:false,style:"fine",tagPos:[490,1402],titlePos:[945,1450.7],phiPos:[772.7,1854],psiPos:[511.7,1598]}
];

const SANS='"Liberation Sans",Arial,sans-serif', SERIF='"Liberation Serif","Times New Roman",serif', BAR='Lato,"Noto Sans",sans-serif', INK='#1c1c1c';
const svg=d3.select("#c");
svg.append("rect").attr("width",980).attr("height",1931).attr("fill","#fff");

// edge texture filters
const defs=svg.append("defs");
function rough(id,f,s){
  const fl=defs.append("filter").attr("id",id).attr("x","-15%").attr("y","-15%").attr("width","130%").attr("height","130%").attr("color-interpolation-filters","sRGB");
  fl.append("feTurbulence").attr("type","fractalNoise").attr("baseFrequency",f).attr("numOctaves",2).attr("seed",4).attr("result","n");
  fl.append("feDisplacementMap").attr("in","SourceGraphic").attr("in2","n").attr("scale",s).attr("xChannelSelector","R").attr("yChannelSelector","G");
}
// cut=noise level below which the band is left open
function holes(id,f,s,cut){
  const k=16;
  const fl=defs.append("filter").attr("id",id).attr("x","-15%").attr("y","-15%").attr("width","130%").attr("height","130%").attr("color-interpolation-filters","sRGB");
  fl.append("feTurbulence").attr("type","fractalNoise").attr("baseFrequency",f).attr("numOctaves",1).attr("seed",7).attr("result","n");
  fl.append("feDisplacementMap").attr("in","SourceGraphic").attr("in2","n").attr("scale",s).attr("xChannelSelector","R").attr("yChannelSelector","G").attr("result","d");
  fl.append("feColorMatrix").attr("in","n").attr("type","matrix").attr("values",`0 0 0 0 0 0 0 0 0 0 0 0 0 0 0 0 0 0 ${k} ${-k*cut}`).attr("result","m");
  fl.append("feComposite").attr("in","d").attr("in2","m").attr("operator","in");
}
rough("rFine",.3,4); rough("rMid",.28,5);
holes("hSpk",.19,13,.42); holes("hSpkL",.24,8,.34);
holes("hBlk",.16,12,.33); holes("hBlkL",.2,8,.36);
holes("hMid",.15,11,.35); holes("hFine",.22,7,.37);
const filterFor={
  spk:i=>i===0?"hSpk":i<=2?"hSpkL":"rMid",
  blk:i=>i===0?"hBlk":i<=2?"hBlkL":"rMid",
  mid:i=>i===0?"hMid":"rMid",
  fine:i=>i===0?"hFine":"rFine"
};

panels.forEach((p,ix)=>{
  const [x0,x1,y0,y1]=p.fr;
  const x=d3.scaleLinear().domain(p.phi).range([0,x1-x0]);
  const y=d3.scaleLinear().domain(p.psi).range([0,y1-y0]);
  const g=svg.append("g").attr("transform",`translate(${x0},${y0})`);
  defs.append("clipPath").attr("id","clip"+ix).append("rect").attr("width",x1-x0).attr("height",y1-y0);
  const plot=g.append("g").attr("clip-path",`url(#clip${ix})`);

  // specks under the regions
  const dark=levelColors[6];
  if(p.sq){
    plot.selectAll("rect.s").data(p.sp).join("rect").attr("class","s")
      .attr("x",d=>x(d[0])-p.r).attr("y",d=>y(d[1])-p.r).attr("width",p.r*2).attr("height",p.r*2).attr("fill",dark);
  }else{
    plot.selectAll("circle.s").data(p.sp).join("circle").attr("class","s")
      .attr("cx",d=>x(d[0])).attr("cy",d=>y(d[1])).attr("r",p.r).attr("fill",dark);
  }

  // nested free-energy regions, outermost first
  const line=d3.line().x(d=>x(d[0])).y(d=>y(d[1])).curve(d3.curveCatmullRomClosed.alpha(.5));
  p.lev.forEach((rings,i)=>{
    const d=rings.map(r=>line(r)).join("");
    const f=filterFor[p.style](i);
    // a speckled band shows the next band out through its gaps, never the white page
    if(i>0&&f.startsWith("h")) plot.append("path").attr("d",d).attr("fill",levelColors[7-i]).attr("filter","url(#rMid)");
    plot.append("path").attr("d",d).attr("fill",levelColors[6-i]).attr("filter",`url(#${f})`);
  });

  // frame and axes
  g.append("rect").attr("width",x1-x0).attr("height",y1-y0).attr("fill","none").attr("stroke",INK).attr("stroke-width",1.5);
  const ax=g.append("g").attr("transform",`translate(0,${y1-y0})`)
    .call(d3.axisBottom(x).tickValues(p.pt).tickSize(7).tickSizeOuter(0).tickPadding(16).tickFormat(String));
  const ay=g.append("g").call(d3.axisLeft(y).tickValues(p.st).tickSize(7).tickSizeOuter(0).tickPadding(12).tickFormat(String));
  [ax,ay].forEach(a=>{
    a.select(".domain").remove();
    a.selectAll("line").attr("stroke",INK).attr("stroke-width",1.5);
    a.selectAll("text").attr("fill","#111").style("font-family",SANS).style("font-size","21px");
  });
  ax.selectAll("text").attr("dx",d=>d>=0?3.5:0);

  // labels
  const txt=(t,xx,yy,fam,size,weight,anchor)=>svg.append("text").text(t).attr("x",xx).attr("y",yy)
    .attr("fill","#111").attr("text-anchor",anchor).style("font-family",fam).style("font-size",size+"px").style("font-weight",weight);
  txt(p.tag,p.tagPos[0],p.tagPos[1],SERIF,34.5,700,"start");
  txt(p.title,p.titlePos[0],p.titlePos[1],SERIF,38,700,"end");
  txt("Phi",p.phiPos[0],p.phiPos[1],SANS,28,400,"middle");
  svg.append("text").text("Psi").attr("transform",`translate(${p.psiPos[0]},${p.psiPos[1]}) rotate(-90)`)
    .attr("fill","#111").attr("text-anchor","middle").style("font-family",SANS).style("font-size","28px");
});

// colour bar
const bx=d3.scaleLinear().domain([levelBreaks[0],levelBreaks[8]]).range([328.3,690]);
const bar=svg.append("g");
bar.selectAll("rect").data(levelColors).join("rect")
  .attr("x",(d,i)=>bx(levelBreaks[i])).attr("width",(d,i)=>bx(levelBreaks[i+1])-bx(levelBreaks[i]))
  .attr("y",1846.7).attr("height",17.6).attr("fill",d=>d);
bar.append("rect").attr("x",bx(0)).attr("y",1846.7).attr("width",bx(4)-bx(0)).attr("height",17.6).attr("fill","none").attr("stroke",INK).attr("stroke-width",1.4);
bar.append("g").attr("transform","translate(0,1864.3)")
  .call(d3.axisBottom(bx).tickValues(levelBreaks).tickSize(4).tickSizeOuter(0).tickPadding(6).tickFormat((d,i)=>barLabels[i]))
  .call(a=>{
    a.select(".domain").remove();
    a.selectAll("line").attr("stroke",INK).attr("stroke-width",1.2);
    a.selectAll("text").attr("dx",11).attr("y",null).attr("dy",null).attr("transform","translate(0,26.4)")
      .attr("fill","#222").style("font-family",BAR).style("font-size","21px").style("letter-spacing","0.6px");
  });
svg.append("text").text("Free Energy (kcal/mol)").attr("x",505).attr("y",1915).attr("text-anchor","middle")
  .attr("fill","#222").style("font-family",BAR).style("font-size","21px").style("letter-spacing","1px");
</script></body></html>
